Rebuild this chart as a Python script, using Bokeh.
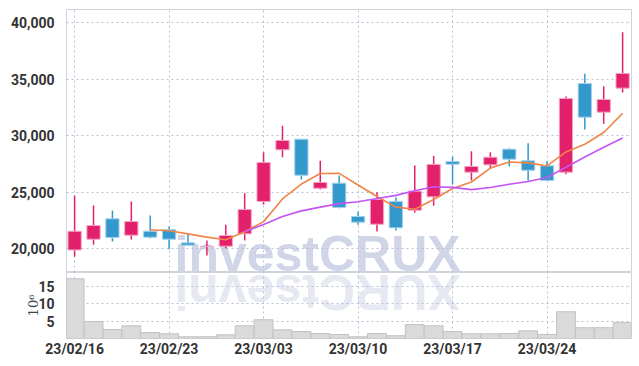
import numpy as np
from bokeh.plotting import figure
from bokeh.layouts import column
from bokeh.models import Range1d, FixedTicker, NumeralTickFormatter, Label, ColumnDataSource
from bokeh.embed import file_html
from bokeh.resources import INLINE

dates = ["23/02/16", "23/02/17", "23/02/20", "23/02/21", "23/02/22", "23/02/23", "23/02/24",
         "23/02/27", "23/02/28", "23/03/02", "23/03/03", "23/03/06", "23/03/07", "23/03/08",
         "23/03/09", "23/03/10", "23/03/13", "23/03/14", "23/03/15", "23/03/16", "23/03/17",
         "23/03/20", "23/03/21", "23/03/22", "23/03/23", "23/03/24", "23/03/27", "23/03/28",
         "23/03/29", "23/03/30"]
opens = [19900, 20850, 22650, 21200, 21555, 21680, 20530, 20200, 20230, 21325, 24180, 28750,
         29680, 25350, 25800, 22850, 22170, 24180, 23410, 24590, 27710, 26770, 27420, 28800,
         27770, 27330, 26770, 34600, 32070, 34190]
highs = [24700, 23820, 23380, 24180, 22940, 21970, 21350, 20730, 22120, 24910, 28530, 30870,
         29680, 27770, 26470, 23270, 25000, 24560, 27360, 28220, 28130, 28620, 28530, 28860,
         29330, 27740, 33450, 35460, 34360, 39130]
lows = [19300, 20350, 20640, 20820, 20940, 19960, 20300, 19400, 20020, 20730, 23910, 28090,
        26120, 25240, 23590, 22120, 21530, 21620, 23180, 23800, 25680, 26030, 27070, 27270,
        26010, 26000, 26590, 30540, 31040, 33800]
closes = [21550, 22060, 21000, 22410, 21025, 20850, 20320, 20200, 21175, 23470, 27620, 29570,
          26500, 25860, 23650, 22350, 24355, 21855, 25090, 27450, 27470, 27270, 28090, 27920,
          26940, 26030, 33280, 31630, 33190, 35490]
volumes = [17.2, 4.9, 2.6, 3.65, 1.7, 1.35, 0.5, 0.5, 1.06, 3.65, 5.4, 2.5, 2.0, 1.45, 1.15,
           0.5, 1.45, 0.8, 4.0, 3.65, 2.0, 1.35, 1.35, 1.45, 2.2, 1.15, 7.7, 3.1, 3.1, 4.6]
ma5_idx = list(range(4, 30))
ma5 = [21680, 21590, 21320, 21030, 20800, 21500, 22400, 24400, 25720, 26650, 26660, 25640,
       24620, 23680, 23500, 24350, 25330, 25900, 27130, 27670, 27590, 27320, 28560, 29240,
       30270, 31960]
ma10_idx = list(range(9, 30))
ma10 = [21500, 22150, 22850, 23350, 23680, 23990, 24150, 24450, 24720, 25120, 25480, 25430,
        25230, 25420, 25700, 25950, 26300, 27200, 28110, 28970, 29790]

UP_FILL, UP_LINE = "#e3206c", "#f3a3c4"
DN_FILL, DN_LINE = "#3399cc", "#a3d0ea"
FONT = "Roboto"
GRID = "#b9c1d6"

x = list(range(len(dates)))
up = [c >= o for o, c in zip(opens, closes)]
src = ColumnDataSource(dict(
    x=x, top=[max(o, c) for o, c in zip(opens, closes)],
    bottom=[min(o, c) for o, c in zip(opens, closes)],
    high=highs, low=lows,
    fill=[UP_FILL if u else DN_FILL for u in up],
    line=[UP_LINE if u else DN_LINE for u in up],
))

xr = Range1d(-0.43, 29.47)
tick_pos = [0, 5, 10, 15, 20, 25]

p = figure(width=639, height=272, x_range=xr, y_range=Range1d(17906, 41140),
           output_backend="svg", toolbar_location=None,
           min_border_left=66, min_border_right=8, min_border_top=9, min_border_bottom=0)
p.background_fill_color = "white"
p.border_fill_color = "white"
p.outline_line_color = "#cfd3db"

wm = Label(x=108, y=19, x_units="screen", y_units="screen", text="investCRUX",
           text_font="Liberation Sans", text_font_style="bold", text_font_size="50px",
           text_color="#d0d6e8", text_baseline="middle", text_align="left", level="image")
p.add_layout(wm)

p.segment(x0="x", y0="high", x1="x", y1="low", source=src, line_color="fill", line_width=1.5)
p.vbar(x="x", top="top", bottom="bottom", width=0.7, source=src,
       fill_color="fill", line_color="line", line_width=1)
p.line(ma5_idx, ma5, line_color="#ef8548", line_width=1.6)
p.line(ma10_idx, ma10, line_color="#c554f2", line_width=1.6)

p.xaxis.visible = False
p.xgrid.ticker = FixedTicker(ticks=tick_pos)
p.yaxis.ticker = FixedTicker(ticks=[20000, 25000, 30000, 35000, 40000])
p.yaxis.formatter = NumeralTickFormatter(format="0,0")
for g in (p.xgrid, p.ygrid):
    g.grid_line_color = GRID
    g.grid_line_dash = "2 3"
    g.grid_line_width = 1
p.yaxis.axis_line_color = None
p.yaxis.major_tick_line_color = None
p.yaxis.minor_tick_line_color = None
p.yaxis.major_label_standoff = 6
p.yaxis.major_label_text_font = FONT
p.yaxis.major_label_text_font_style = "bold"
p.yaxis.major_label_text_font_size = "14px"
p.yaxis.major_label_text_color = "#333333"

v = figure(width=639, height=94, x_range=xr, y_range=Range1d(0, 19),
           output_backend="svg", toolbar_location=None,
           min_border_left=66, min_border_right=8, min_border_top=0, min_border_bottom=28)
v.background_fill_color = "white"
v.border_fill_color = "white"
v.outline_line_color = "#cfd3db"

refl = Label(x=394, y=47, x_units="screen", y_units="screen", text="investCRUX"[::-1],
             text_font="Liberation Sans", text_font_style="bold", text_font_size="50px",
             text_color="#e6e9f2", text_baseline="middle", text_align="left",
             angle=np.pi, level="image")
v.add_layout(refl)

v.vbar(x=x, top=volumes, bottom=0, width=1.0, fill_color="#dadada", line_color="#c2c2c2",
       line_width=1)

v.xaxis.ticker = FixedTicker(ticks=tick_pos)
v.xaxis.major_label_overrides = {i: dates[i] for i in tick_pos}
v.yaxis.ticker = FixedTicker(ticks=[5, 10, 15])
v.yaxis.axis_label = "10⁶"
v.yaxis.axis_label_text_font = "DejaVu Serif"
v.yaxis.axis_label_text_font_style = "normal"
v.yaxis.axis_label_text_font_size = "13px"
v.yaxis.axis_label_text_color = "#444444"
v.yaxis.axis_label_standoff = -6
v.xgrid.ticker = FixedTicker(ticks=tick_pos)
for g in (v.xgrid, v.ygrid):
    g.grid_line_color = GRID
    g.grid_line_dash = "2 3"
    g.grid_line_width = 1
for ax in (v.xaxis, v.yaxis):
    ax.axis_line_color = None
    ax.major_tick_line_color = None
    ax.minor_tick_line_color = None
    ax.major_label_text_font = FONT
    ax.major_label_text_font_style = "bold"
    ax.major_label_text_font_size = "14px"
    ax.major_label_text_color = "#333333"
v.xaxis.major_label_standoff = -4
v.yaxis.major_label_standoff = 6

layout = column(p, v, spacing=0)
open("out.html", "w").write(file_html(layout, INLINE))
